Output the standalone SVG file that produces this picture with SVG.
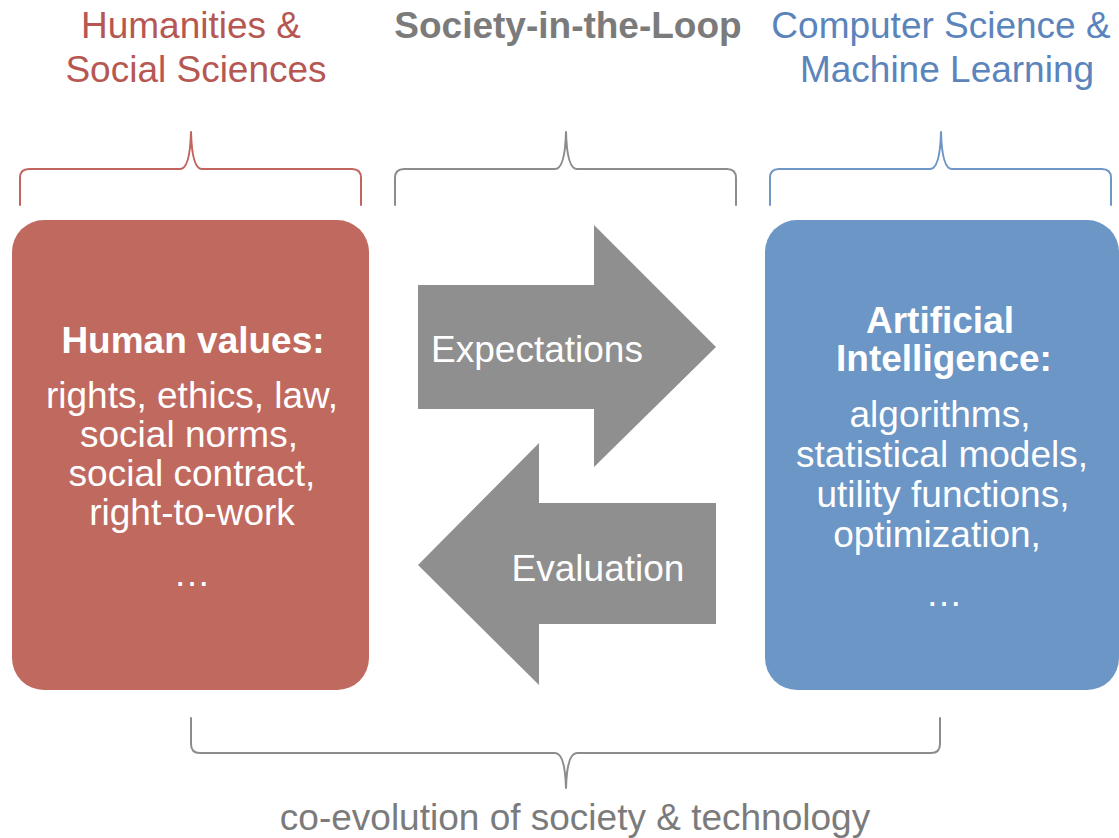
<svg xmlns="http://www.w3.org/2000/svg" width="1119" height="838" viewBox="0 0 1119 838">
<style>
text{font-family:"Liberation Sans",Arial,Helvetica,sans-serif;text-anchor:middle}
.t{font-size:37px}
.w{fill:#ffffff;font-size:37px}
.b{font-weight:bold}
.brace{fill:none;stroke-width:2;stroke-linejoin:round;stroke-linecap:round}
</style>
<rect width="1119" height="838" fill="#ffffff"/>
<g id="titles">
<text class="t" x="191" y="38" fill="#b65752">Humanities &amp;</text>
<text class="t" x="196" y="82" fill="#b65752">Social Sciences</text>
<text class="t b" x="568" y="38" fill="#7b7b7b">Society-in-the-Loop</text>
<text class="t" x="941" y="38" fill="#5a84bb">Computer Science &amp;</text>
<text class="t" x="947" y="82" fill="#5a84bb">Machine Learning</text>
</g>
<g id="braces">
<path class="brace" stroke="#c1655e" d="M20 205 L20 178 Q20 169 29 169 L180 169 Q190 169 191 132 Q192 169 202 169 L352 169 Q361 169 361 178 L361 205"/>
<path class="brace" stroke="#8c8c8c" d="M395 205 L395 178 Q395 169 404 169 L555 169 Q565 169 566 132 Q567 169 577 169 L727 169 Q736 169 736 178 L736 205"/>
<path class="brace" stroke="#6f96c6" d="M770 205 L770 178 Q770 169 779 169 L930 169 Q940 169 941 132 Q942 169 952 169 L1102 169 Q1111 169 1111 178 L1111 205"/>
<path class="brace" stroke="#8c8c8c" d="M191 718 L191 744 Q191 753 200 753 L555 753 Q565 753 566 788 Q567 753 577 753 L931 753 Q940 753 940 744 L940 718"/>
</g>
<g id="human-values">
<rect x="12" y="220" width="357" height="470" rx="32" ry="32" fill="#c0695f"/>
<text class="w b" x="193" y="353">Human values:</text>
<text class="w" x="192" y="408">rights, ethics, law,</text>
<text class="w" x="189" y="447">social norms,</text>
<text class="w" x="192" y="486">social contract,</text>
<text class="w" x="192" y="525">right-to-work</text>
<text class="w" x="192" y="586">…</text>
</g>
<g id="artificial-intelligence">
<rect x="765" y="220" width="354" height="470" rx="32" ry="32" fill="#6b96c6"/>
<text class="w b" x="940" y="333">Artificial</text>
<text class="w b" x="944" y="371">Intelligence:</text>
<text class="w" x="940" y="427">algorithms,</text>
<text class="w" x="942" y="467">statistical models,</text>
<text class="w" x="943" y="507">utility functions,</text>
<text class="w" x="937" y="547">optimization,</text>
<text class="w" x="944" y="606">…</text>
</g>
<g id="connectors">
<g id="expectations">
<polygon points="418,285 594,285 594,225 716,347 594,467 594,409 418,409" fill="#8f8f8f"/>
<text class="w" x="537" y="362">Expectations</text>
</g>
<g id="evaluation">
<polygon points="716,503 539,503 539,443 418,565 539,685 539,624 716,624" fill="#8f8f8f"/>
<text class="w" x="598" y="581">Evaluation</text>
</g>
</g>
<g id="footer">
<text class="t" x="575" y="830" fill="#7b7b7b">co-evolution of society &amp; technology</text>
</g>
</svg>
